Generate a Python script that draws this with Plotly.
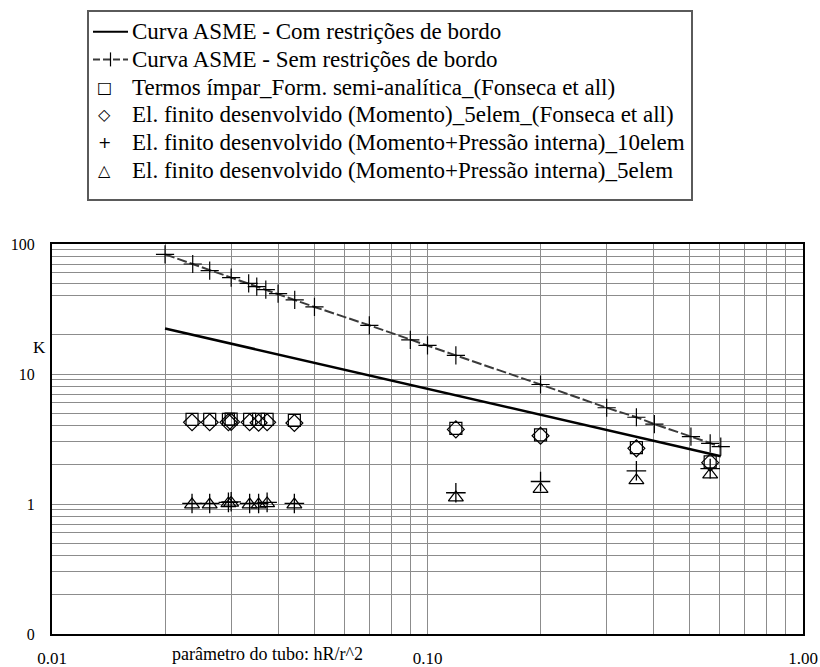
import plotly.graph_objects as go

# ---- data: flexibility factor K versus tube parameter h = tR/r^2 ----
asme_com_x = [0.02, 0.1, 0.2, 0.604]
asme_com_y = [22.4, 7.7, 4.84, 2.33]

asme_sem_x = [0.02, 0.0237, 0.0263, 0.030, 0.0334, 0.0351, 0.0371, 0.040, 0.0443, 0.050,
              0.070, 0.090, 0.100, 0.119, 0.200, 0.300, 0.360, 0.402, 0.503, 0.566, 0.604]
asme_sem_y = [83.3, 70.2, 62.5, 55.1, 49.8, 47.0, 44.5, 41.5, 37.2, 32.8,
              23.7, 18.3, 16.6, 13.9, 8.3, 5.5, 4.65, 4.12, 3.30, 2.93, 2.76]

pts_x = [0.0236, 0.0263, 0.0295, 0.0300, 0.0336, 0.0355, 0.0374, 0.0442, 0.119, 0.200, 0.360, 0.566]
termos_y = [4.47, 4.47, 4.47, 4.50, 4.47, 4.47, 4.47, 4.40, 3.82, 3.40, 2.71, 2.11]
momento5_y = [4.25, 4.25, 4.25, 4.28, 4.25, 4.22, 4.25, 4.20, 3.75, 3.35, 2.68, 2.08]
press10_y = [1.01, 1.01, 1.03, 1.04, 1.01, 1.01, 1.03, 1.01, 1.22, 1.49, 1.80, 1.87]
press5_y = [0.99, 0.99, 1.01, 1.02, 0.99, 0.99, 1.01, 0.99, 1.12, 1.30, 1.52, 1.68]

legend_labels = [
    "Curva ASME - Com restrições de bordo",
    "Curva ASME - Sem restrições de bordo",
    "Termos ímpar_Form. semi-analítica_(Fonseca et all)",
    "El. finito desenvolvido (Momento)_5elem_(Fonseca et all)",
    "El. finito desenvolvido (Momento+Pressão interna)_10elem",
    "El. finito desenvolvido (Momento+Pressão interna)_5elem",
]
legend_glyphs = [None, None, "□", "◇", "+", "△"]

x_decades = [0.01, 0.1, 1.0]
x_ticktext = {0.01: "0.01", 0.1: "0.10", 1.0: "1.00"}
y_decades = [0.1, 1, 10, 100]
y_ticktext = {0.1: "0", 1: "1", 10: "10", 100: "100"}
y_grid_skip = [30]  # this horizontal rule is not drawn on the chart

FONT = "Liberation Serif"
W, H = 820, 667
L, R, T, B = 52, 17, 244, 33
PW, PH = W - L - R, H - T - B


def px(x):
    return (x - L) / PW


def py(y):
    return (H - B - y) / PH


def log_grid(decades, skip=()):
    vals = []
    for d in decades[:-1]:
        for k in range(1, 10):
            v = round(d * k, 6)
            if v not in skip:
                vals.append(v)
    vals.append(decades[-1])
    return vals


xvals = log_grid(x_decades)
xtext = [x_ticktext.get(v, "") for v in xvals]
yvals = log_grid(y_decades, y_grid_skip)
ytext = [y_ticktext.get(v, "") for v in yvals]

fig = go.Figure()

fig.add_trace(go.Scatter(x=asme_com_x, y=asme_com_y, mode="lines",
                         line=dict(color="black", width=2.5), name=legend_labels[0]))
fig.add_trace(go.Scatter(x=asme_sem_x, y=asme_sem_y, mode="lines+markers",
                         line=dict(color="#3a3a3a", width=2, dash="10px,3px"),
                         marker=dict(symbol="cross-thin", size=13,
                                     line=dict(color="black", width=1.2)),
                         name=legend_labels[1]))
fig.add_trace(go.Scatter(x=pts_x, y=termos_y, mode="markers",
                         marker=dict(symbol="square-open", size=12, color="black",
                                     line=dict(width=1.2)), name=legend_labels[2]))
fig.add_trace(go.Scatter(x=pts_x, y=momento5_y, mode="markers",
                         marker=dict(symbol="diamond-open", size=13, color="black",
                                     line=dict(width=1.2)), name=legend_labels[3]))
fig.add_trace(go.Scatter(x=pts_x, y=press10_y, mode="markers",
                         marker=dict(symbol="cross-thin-open", size=14, color="black",
                                     line=dict(width=1.3, color="black")), name=legend_labels[4]))
fig.add_trace(go.Scatter(x=pts_x, y=press5_y, mode="markers",
                         marker=dict(symbol="triangle-up-open", size=13, color="black",
                                     line=dict(width=1.2)), name=legend_labels[5]))

shapes = []
annotations = []

# legend box drawn by hand above the plot area
box_l, box_r, box_t, box_b = 88, 692, 11, 200
shapes.append(dict(type="rect", xref="paper", yref="paper",
                   x0=px(box_l), x1=px(box_r), y0=py(box_b), y1=py(box_t),
                   line=dict(color="#5a5a5a", width=2), fillcolor="white", layer="above"))
row_y = [31.7 + 27.7 * i for i in range(6)]
for i, (lab, g) in enumerate(zip(legend_labels, legend_glyphs)):
    yc = row_y[i]
    annotations.append(dict(xref="paper", yref="paper", x=px(130), y=py(yc),
                            xanchor="left", yanchor="middle", text=lab, showarrow=False,
                            font=dict(family=FONT, size=23, color="black")))
    if g is not None:
        annotations.append(dict(xref="paper", yref="paper", x=px(104), y=py(yc),
                                xanchor="center", yanchor="middle", text=g, showarrow=False,
                                font=dict(family="DejaVu Sans", size=16, color="black")))
# line samples for the two ASME curves
shapes.append(dict(type="line", xref="paper", yref="paper", x0=px(93), x1=px(128),
                   y0=py(row_y[0]), y1=py(row_y[0]), line=dict(color="black", width=2)))
shapes.append(dict(type="line", xref="paper", yref="paper", x0=px(93), x1=px(128),
                   y0=py(row_y[1]), y1=py(row_y[1]),
                   line=dict(color="#3a3a3a", width=2, dash="7px,3px")))
shapes.append(dict(type="line", xref="paper", yref="paper", x0=px(110.5), x1=px(110.5),
                   y0=py(row_y[1] - 7), y1=py(row_y[1] + 7), line=dict(color="black", width=1.2)))

# axis captions
annotations.append(dict(xref="paper", yref="paper", x=px(267), y=py(654),
                        xanchor="center", yanchor="middle", text="parâmetro do tubo: hR/r^2",
                        showarrow=False, font=dict(family=FONT, size=18, color="black")))
annotations.append(dict(xref="paper", yref="paper", x=px(39), y=py(347),
                        xanchor="center", yanchor="middle", text="K",
                        showarrow=False, font=dict(family=FONT, size=17, color="black")))

fig.update_layout(
    width=W, height=H,
    margin=dict(l=L, r=R, t=T, b=B, autoexpand=False),
    paper_bgcolor="white", plot_bgcolor="white",
    showlegend=False,
    shapes=shapes, annotations=annotations,
    font=dict(family=FONT, size=16, color="black"),
)
fig.update_xaxes(type="log", range=[-2, 0], tickmode="array", tickvals=xvals, ticktext=xtext,
                 showgrid=True, gridcolor="#8c8c8c", gridwidth=1, zeroline=False,
                 showline=True, linecolor="black", linewidth=2, mirror=True,
                 ticks="", ticklabelstandoff=8,
                 tickfont=dict(family=FONT, size=17, color="black"))
fig.update_yaxes(type="log", range=[-1, 2], tickmode="array", tickvals=yvals, ticktext=ytext,
                 showgrid=True, gridcolor="#8c8c8c", gridwidth=1, zeroline=False,
                 showline=True, linecolor="black", linewidth=2, mirror=True,
                 ticks="", ticklabelstandoff=12,
                 tickfont=dict(family=FONT, size=16, color="black"))

fig.write_html("out.html")
